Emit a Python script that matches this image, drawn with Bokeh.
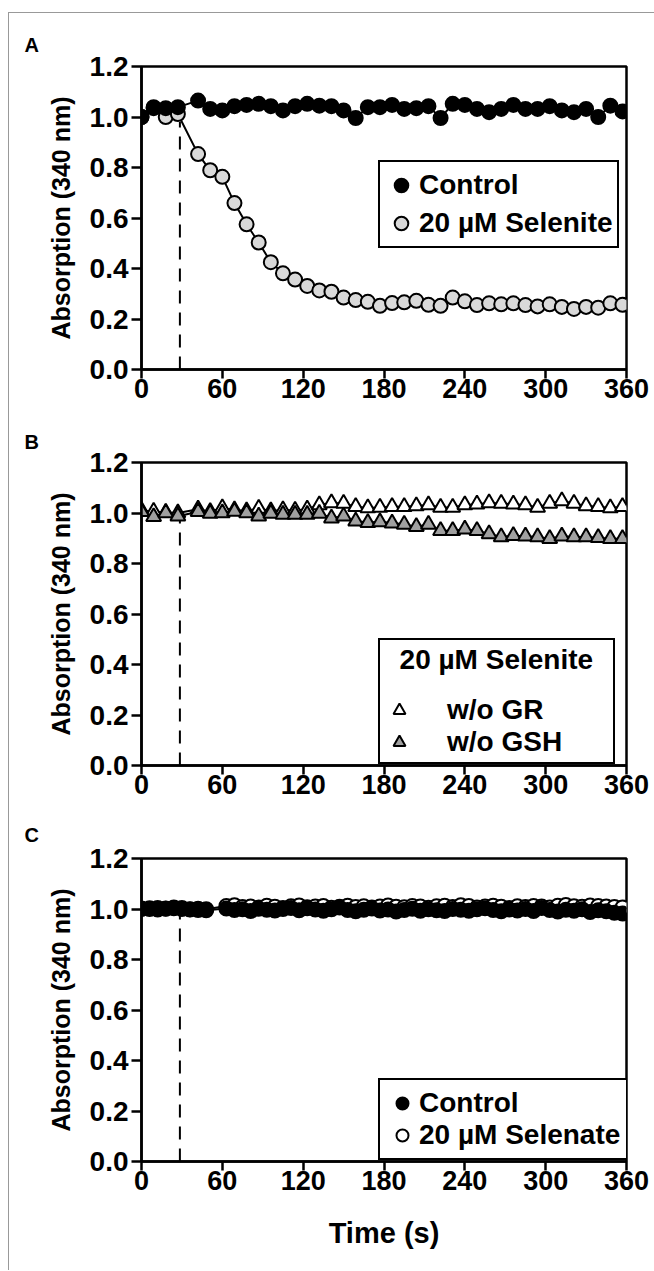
from bokeh.plotting import figure
from bokeh.models import Range1d, FixedTicker, Legend, LegendItem, NumeralTickFormatter
from bokeh.layouts import column
from bokeh.embed import file_html
from bokeh.resources import INLINE

# ---------------- data ----------------
x_ticks = [0, 60, 120, 180, 240, 300, 360]
y_ticks = [0.0, 0.2, 0.4, 0.6, 0.8, 1.0, 1.2]
injection_time = 28.5
injection_top = 0.98

t_ab = [0, 9, 18, 27, 42, 51, 60, 69, 78, 87, 96, 105, 114, 123, 132, 141, 150, 159, 168, 177,
        186, 195, 204, 213, 222, 231, 240, 249, 258, 267, 276, 285, 294, 303, 312, 321, 330, 339, 348, 357]

a_control = [1.000, 1.039, 1.035, 1.039, 1.065, 1.032, 1.026, 1.043, 1.048, 1.052,
             1.043, 1.026, 1.043, 1.052, 1.045, 1.043, 1.026, 0.996, 1.039, 1.039,
             1.048, 1.032, 1.035, 1.043, 0.996, 1.052, 1.048, 1.032, 1.019, 1.032,
             1.048, 1.032, 1.032, 1.043, 1.026, 1.019, 1.032, 1.000, 1.045, 1.022]
a_selenite = [1.000, 1.035, 1.000, 1.012, 0.853, 0.789, 0.763, 0.659, 0.575, 0.503,
              0.425, 0.381, 0.356, 0.331, 0.313, 0.308, 0.285, 0.275, 0.268, 0.252,
              0.263, 0.266, 0.272, 0.256, 0.252, 0.285, 0.270, 0.255, 0.262, 0.258,
              0.262, 0.255, 0.250, 0.258, 0.248, 0.240, 0.248, 0.245, 0.262, 0.256]

b_wo_gr = [1.010, 1.006, 1.002, 1.000, 1.015, 1.005, 1.020, 1.012, 1.008, 1.018,
           1.008, 1.012, 1.010, 1.015, 1.032, 1.040, 1.038, 1.025, 1.020, 1.022,
           1.025, 1.025, 1.028, 1.032, 1.022, 1.022, 1.032, 1.035, 1.040, 1.038,
           1.035, 1.032, 1.022, 1.038, 1.048, 1.038, 1.028, 1.025, 1.020, 1.025]
b_wo_gsh = [1.005, 0.985, 1.000, 0.987, 1.005, 0.998, 1.000, 1.006, 1.000, 0.987,
            0.998, 0.994, 0.994, 0.994, 0.998, 0.980, 0.987, 0.968, 0.962, 0.965,
            0.960, 0.955, 0.946, 0.955, 0.930, 0.930, 0.936, 0.930, 0.917, 0.905,
            0.910, 0.908, 0.905, 0.898, 0.908, 0.905, 0.905, 0.902, 0.898, 0.898]

t_c = [0, 6, 12, 18, 24, 30, 36, 42, 48,
       63, 69, 75, 81, 87, 93, 99, 105, 111, 117, 123, 129, 135, 141, 147, 153, 159, 165, 171, 177,
       183, 189, 195, 201, 207, 213, 219, 225, 231, 237, 243, 249, 255, 261, 267, 273, 279, 285,
       291, 297, 303, 309, 315, 321, 327, 333, 339, 345, 351, 357]
c_control = [1.000, 1.003, 0.998, 1.002, 1.006, 1.004, 0.999, 0.996, 0.995,
             1.002, 0.996, 0.999, 0.992, 1.001, 0.997, 0.994, 1.000, 1.004, 0.995,
             1.003, 0.998, 0.993, 0.999, 1.006, 0.996, 0.991, 0.997, 1.002, 0.994,
             0.998, 0.990, 0.996, 1.001, 0.993, 0.999, 0.995, 0.992, 1.000, 0.997,
             0.993, 0.999, 1.003, 0.996, 0.991, 0.998, 0.994, 1.000, 0.992, 1.004,
             0.996, 0.990, 0.997, 0.993, 0.999, 0.988, 0.995, 0.991, 0.985, 0.982]
c_selenate = [1.002, 1.000, 1.004, 1.001, 1.003, 1.000, 0.998, 1.001, 0.999,
              1.012, 1.015, 1.008, 1.010, 1.006, 1.013, 1.009, 1.004, 1.011, 1.014,
              1.007, 1.010, 1.012, 1.005, 1.009, 1.013, 1.008, 1.011, 1.006, 1.010,
              1.014, 1.009, 1.007, 1.012, 1.010, 1.005, 1.011, 1.013, 1.008, 1.015,
              1.012, 1.006, 1.010, 1.013, 1.009, 1.004, 1.011, 1.008, 1.012, 1.010,
              1.006, 1.013, 1.016, 1.011, 1.009, 1.014, 1.012, 1.010, 1.008, 1.006]

FONT = "Liberation Sans"
W = 645


def make_fig(height, top, bottom, panel, title_standoff, xlabel=None):
    p = figure(width=W, height=height, x_range=Range1d(0, 360), y_range=Range1d(0, 1.2),
               output_backend="svg", toolbar_location=None,
               min_border_left=132, min_border_right=28,
               min_border_top=top, min_border_bottom=bottom)
    p.grid.visible = False
    p.outline_line_color = "black"
    p.outline_line_width = 2.5
    p.outline_line_alpha = 1
    p.background_fill_color = "white"
    p.border_fill_color = "white"
    p.title.text = panel
    p.title.align = "left"
    p.title.offset = -117
    p.title.standoff = title_standoff
    p.title.text_font = FONT
    p.title.text_font_size = "20px"
    p.title.text_font_style = "bold"
    p.title.text_color = "black"
    p.xaxis.ticker = FixedTicker(ticks=x_ticks)
    p.yaxis.ticker = FixedTicker(ticks=y_ticks)
    p.yaxis.formatter = NumeralTickFormatter(format="0.0")
    for ax in (p.xaxis[0], p.yaxis[0]):
        ax.axis_line_width = 2.5
        ax.axis_line_color = "black"
        ax.major_tick_line_width = 2.5
        ax.major_tick_line_color = "black"
        ax.major_tick_in = 0
        ax.minor_tick_in = 0
        ax.minor_tick_out = 0
        ax.major_label_text_font = FONT
        ax.major_label_text_font_style = "bold"
        ax.major_label_text_color = "black"
        ax.axis_label_text_font = FONT
        ax.axis_label_text_font_style = "bold"
        ax.axis_label_text_color = "black"
    p.xaxis.major_tick_out = 9
    p.yaxis.major_tick_out = 10
    p.xaxis.major_label_text_font_size = "27px"
    p.yaxis.major_label_text_font_size = "28px"
    p.xaxis.major_label_standoff = 0
    p.yaxis.major_label_standoff = 3
    p.yaxis.axis_label = "Absorption (340 nm)"
    p.yaxis.axis_label_text_font_size = "25px"
    p.yaxis.axis_label_standoff = 12
    if xlabel:
        p.xaxis.axis_label = xlabel
        p.xaxis.axis_label_text_font_size = "29px"
        p.xaxis.axis_label_standoff = 24
    p.segment(x0=[injection_time], y0=[0], x1=[injection_time], y1=[injection_top],
              line_color="black", line_width=2, line_dash="13 9")
    return p


def style_legend(leg):
    leg.border_line_color = "black"
    leg.border_line_width = 2.5
    leg.border_line_alpha = 1
    leg.background_fill_color = "white"
    leg.background_fill_alpha = 1
    leg.label_text_font = FONT
    leg.label_text_font_size = "28px"
    leg.label_text_font_style = "bold"
    leg.label_text_color = "black"
    leg.glyph_width = 30
    leg.glyph_height = 30
    leg.label_height = 30
    leg.margin = 0


# ---------------- panel A ----------------
pa = make_fig(397, 53, 41, "A", 21)
pa.line(t_ab, a_selenite, line_color="black", line_width=2)
ra_sel = pa.scatter(t_ab, a_selenite, marker="circle", size=14, fill_color="#d9d9d9",
                    line_color="black", line_width=2)
pa.line(t_ab, a_control, line_color="black", line_width=2)
ra_ctl = pa.scatter(t_ab, a_control, marker="circle", size=14, fill_color="black",
                    line_color="black", line_width=2)
leg_a = Legend(items=[LegendItem(label="Control", renderers=[ra_ctl]),
                      LegendItem(label="20 µM Selenite", renderers=[ra_sel])],
               location=(237, 121))
style_legend(leg_a)
leg_a.glyph_width = 34
leg_a.glyph_height = 38
leg_a.padding = 4
leg_a.spacing = -3
leg_a.label_standoff = 1
pa.add_layout(leg_a)

# ---------------- panel B ----------------
pb = make_fig(396, 52, 41, "B", 20)
pb.line(t_ab, b_wo_gr, line_color="black", line_width=2)
rb_gr = pb.scatter(t_ab, b_wo_gr, marker="triangle", size=15, fill_color="white",
                   line_color="black", line_width=2)
pb.line(t_ab, b_wo_gsh, line_color="black", line_width=2)
rb_gsh = pb.scatter(t_ab, b_wo_gsh, marker="triangle", size=15, fill_color="#a0a0a0",
                    line_color="black", line_width=2)
leg_b = Legend(items=[LegendItem(label="w/o GR", renderers=[rb_gr]),
                      LegendItem(label="w/o GSH", renderers=[rb_gsh])],
               location=(237, 1), title="\u00a0\u00a020 µM Selenite\u00a0\u00a0")
style_legend(leg_b)
leg_b.title_text_font = FONT
leg_b.title_text_font_size = "28px"
leg_b.title_text_font_style = "bold"
leg_b.title_text_color = "black"
leg_b.title_standoff = 18
leg_b.padding = 4
leg_b.spacing = -10
leg_b.label_standoff = 33
pb.add_layout(leg_b)

# ---------------- panel C ----------------
pc = make_fig(464, 52, 109, "C", 25, xlabel="Time (s)")
pc.line(t_c, c_selenate, line_color="black", line_width=2)
rc_sel = pc.scatter(t_c, c_selenate, marker="circle", size=14, fill_color="white",
                    line_color="black", line_width=2)
pc.line(t_c, c_control, line_color="black", line_width=2)
rc_ctl = pc.scatter(t_c, c_control, marker="circle", size=14, fill_color="black",
                    line_color="black", line_width=2)
leg_c = Legend(items=[LegendItem(label="Control", renderers=[rc_ctl]),
                      LegendItem(label="20 µM Selenate", renderers=[rc_sel])],
               location=(237, 1))
style_legend(leg_c)
leg_c.padding = 7
leg_c.spacing = -2
leg_c.label_standoff = 2
pc.add_layout(leg_c)

layout = column(pa, pb, pc, spacing=0,
                styles={"border-top": "1px solid #999999", "border-left": "1px solid #999999",
                        "margin-top": "12px", "margin-left": "8px"})

open("out.html", "w").write(file_html(layout, INLINE))
